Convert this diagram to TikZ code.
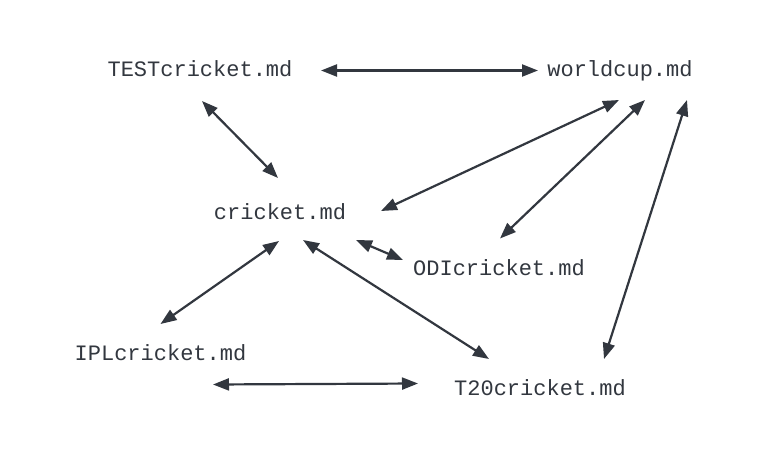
\documentclass[tikz,border=0pt]{standalone}
\usepackage{fontspec}
\setmonofont{Liberation Mono}
\usetikzlibrary{arrows.meta,calc}
\definecolor{ink}{RGB}{50,55,63}
\begin{document}
\begin{tikzpicture}[x=1pt,y=-1pt,
  file/.style={font=\ttfamily\fontsize{22}{22}\selectfont,text=ink,inner sep=0pt,anchor=base},
  link/.style={draw=ink,line width=2.2pt,{Triangle[length=16pt,width=12pt]}-{Triangle[length=16pt,width=12pt]}}]
\useasboundingbox[fill=white] (0,0) rectangle (780,460);
\node[file] (test) at (200,76.5) {TESTcricket.md};
\node[file] (wc) at (620,76.5) {worldcup.md};
\node[file] (cricket) at (280,219.5) {cricket.md};
\node[file] (odi) at (499,275.5) {ODIcricket.md};
\node[file] (ipl) at (160.5,360.5) {IPLcricket.md};
\node[file] (t20) at (540,395.5) {T20cricket.md};
\coordinate (testc) at ($(test.base)+(0,-7.5)$);
\coordinate (wcc) at ($(wc.base)+(0,-7.5)$);
\coordinate (crc) at ($(cricket.base)+(0,-7.5)$);
\coordinate (odic) at ($(odi.base)+(0,-7.5)$);
\coordinate (iplc) at ($(ipl.base)+(0,-7.5)$);
\coordinate (t20c) at ($(t20.base)+(0,-7.5)$);
\draw[link] ($(testc)+(121,1.5)$) -- ($(wcc)+(-82,1.5)$);
\draw[link] ($(testc)+(2,32)$) -- ($(crc)+(-2,-34)$);
\draw[link] ($(wcc)+(-1,31)$) -- ($(crc)+(101,-1)$);
\draw[link] ($(wcc)+(25,31)$) -- ($(odic)+(1,-29.5)$);
\draw[link] ($(wcc)+(67,31)$) -- ($(t20c)+(64,-29)$);
\draw[link] ($(crc)+(76,28)$) -- ($(odic)+(-96,-8)$);
\draw[link] ($(crc)+(-1,29)$) -- ($(iplc)+(0,-29)$);
\draw[link] ($(crc)+(23,28)$) -- ($(t20c)+(-51,-29)$);
\draw[link] ($(iplc)+(52.5,31.5)$) -- ($(t20c)+(-122,-4.5)$);
\end{tikzpicture}
\end{document}
